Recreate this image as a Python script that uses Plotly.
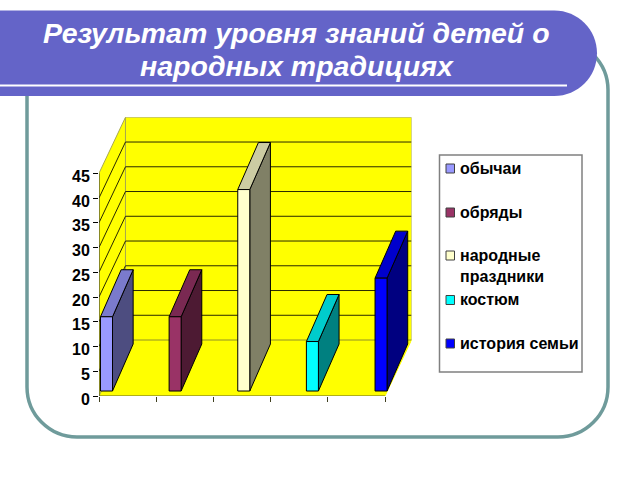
import plotly.graph_objects as go

TITLE_LINES = ["Результат уровня знаний детей о", "народных традициях"]

SERIES = ["обычаи", "обряды", "народные<br>праздники", "костюм", "история семьи"]
VALUES = [15, 15, 40.7, 10, 22.8]
Y_TICKS = [0, 5, 10, 15, 20, 25, 30, 35, 40, 45]
X_TICKS = [0, 1, 2, 3, 4, 5]

FRONT = ["#9999FF", "#993366", "#FFFFCC", "#00FFFF", "#0000FF"]
TOP = ["#7A7ACC", "#7A2952", "#CCCCA3", "#00CCCC", "#0000CC"]
SIDE = ["#4D4D80", "#4D1A33", "#808066", "#008080", "#000080"]

WIDTH, HEIGHT = 640, 480
# plot area in page pixels
LEFT, RIGHT, BOTTOM, TOPY = 99, 411.5, 396, 117.3
X_MAX = (RIGHT - LEFT) / 57.2
Y_MAX = (BOTTOM - TOPY) / 4.95

# oblique depth of the walls and of the bars, in axis units
DEPTH_X, DEPTH_Y = 0.463, 11.31
BAR_START_X, BAR_END_X = 0.11, 0.89
BAR_START_Y, BAR_END_Y = 0.089, 0.929
BAR_STEP, BAR_WIDTH, BAR_OFFSET = 1.2, 0.21, -0.025


def px(x):
    return x / WIDTH


def py(y):
    return 1 - y / HEIGHT


def rounded_path(x0, y0, x1, y1, r_right, r_left=0):
    """Closed path in paper coords, corners drawn as beziers."""
    def p(x, y):
        return f"{px(x):.5f},{py(y):.5f}"

    def corner(c1, c2, end):
        return f"C{p(*c1)} {p(*c2)} {p(*end)} "

    k = 0.5523
    rr, rl = r_right, r_left
    path = f"M{p(x0 + rl, y0)} L{p(x1 - rr, y0)} "
    path += corner((x1 - rr + k * rr, y0), (x1, y0 + rr - k * rr), (x1, y0 + rr))
    path += f"L{p(x1, y1 - rr)} "
    path += corner((x1, y1 - rr + k * rr), (x1 - rr + k * rr, y1), (x1 - rr, y1))
    path += f"L{p(x0 + rl, y1)} "
    if rl:
        path += corner((x0 + rl - k * rl, y1), (x0, y1 - rl + k * rl), (x0, y1 - rl))
        path += f"L{p(x0, y0 + rl)} "
        path += corner((x0, y0 + rl - k * rl), (x0 + rl - k * rl, y0), (x0 + rl, y0))
    return path + "Z"


def polygon(xs, ys, fill, line="#000000", width=1):
    return go.Scatter(
        x=xs + xs[:1], y=ys + ys[:1],
        mode="lines", fill="toself", fillcolor=fill,
        line=dict(color=line, width=width),
        hoverinfo="skip", showlegend=False, cliponaxis=False,
    )


def lines(xs, ys, color, width=1):
    return go.Scatter(
        x=xs, y=ys, mode="lines",
        line=dict(color=color, width=width),
        hoverinfo="skip", showlegend=False, cliponaxis=False,
    )


fig = go.Figure()

# walls and floor
WALL_EDGE = "#A8A850"
fig.add_trace(polygon([0, 5, 5 + DEPTH_X, DEPTH_X], [0, 0, DEPTH_Y, DEPTH_Y], "#FFFF00", "#FFFF00"))
fig.add_trace(polygon([0, DEPTH_X, DEPTH_X, 0], [0, DEPTH_Y, 45 + DEPTH_Y, 45], "#FFFF00", WALL_EDGE))
fig.add_trace(polygon([DEPTH_X, 5 + DEPTH_X, 5 + DEPTH_X, DEPTH_X],
                      [DEPTH_Y, DEPTH_Y, 45 + DEPTH_Y, 45 + DEPTH_Y], "#FFFF00", WALL_EDGE))

# gridlines run along the side wall, then the back wall
grid_x, grid_y = [], []
for v in Y_TICKS[1:-1]:
    grid_x += [0, DEPTH_X, 5 + DEPTH_X, None]
    grid_y += [v, v + DEPTH_Y, v + DEPTH_Y, None]
fig.add_trace(lines(grid_x, grid_y, "#2A2A00"))
fig.add_trace(lines([DEPTH_X, 5 + DEPTH_X], [DEPTH_Y, DEPTH_Y], "#BDBD00"))

# axis lines stop at the last tick, the plot area goes on behind them
fig.add_trace(lines([0, 0], [0, 45], "#404020"))
fig.add_trace(lines([0, 5], [0, 0], "#606030"))

# bars: front, top and side faces
for i, value in enumerate(VALUES):
    x0 = BAR_OFFSET + i * BAR_STEP
    x1 = x0 + BAR_WIDTH
    sx, sy = BAR_START_X * DEPTH_X, BAR_START_Y * DEPTH_Y
    ex, ey = BAR_END_X * DEPTH_X, BAR_END_Y * DEPTH_Y
    fig.add_trace(polygon([x1 + sx, x1 + ex, x1 + ex, x1 + sx],
                          [sy, ey, ey + value, sy + value], SIDE[i]))
    fig.add_trace(polygon([x0 + sx, x1 + sx, x1 + ex, x0 + ex],
                          [sy + value, sy + value, ey + value, ey + value], TOP[i]))
    fig.add_trace(polygon([x0 + sx, x1 + sx, x1 + sx, x0 + sx],
                          [sy, sy, sy + value, sy + value], FRONT[i]))

# slide background: frame under header
shapes = [
    dict(type="path", xref="paper", yref="paper", layer="below",
         path=rounded_path(27, 40, 608, 437, 50, 50),
         fillcolor="#FFFFFF", line=dict(color="#6F9B9B", width=3.5)),
    dict(type="path", xref="paper", yref="paper", layer="below",
         path=rounded_path(-5, 10.5, 597, 96, 42.75),
         fillcolor="#6464C8", line=dict(width=0)),
    dict(type="line", xref="paper", yref="paper", layer="below",
         x0=0, x1=px(567), y0=py(85.5), y1=py(85.5),
         line=dict(color="#FFFFFF", width=2)),
    dict(type="rect", xref="paper", yref="paper", layer="below",
         x0=px(439.5), x1=px(582), y0=py(155), y1=py(372),
         fillcolor="#FFFFFF", line=dict(color="#808080", width=1.5)),
]

annotations = []
# two separate lines, the slide's line spacing is tighter than plotly's
for text, y in zip(TITLE_LINES, [33, 66]):
    annotations.append(dict(
        xref="paper", yref="paper", x=px(296.5), y=py(y),
        xanchor="center", yanchor="middle", showarrow=False,
        text=f"<b><i>{text}</i></b>",
        font=dict(family="Liberation Sans", size=28.5, color="#FFFFFF"),
    ))

# legend, laid out by hand because the native one can't do these small swatches
LEGEND_ROWS = [168.5, 212.5, 255.5, 300, 343.5]
for i, name in enumerate(SERIES):
    y = LEGEND_ROWS[i]
    shapes.append(dict(type="rect", xref="paper", yref="paper", layer="below",
                       x0=px(446), x1=px(454.5), y0=py(y - 4.5), y1=py(y + 4.5),
                       fillcolor=FRONT[i], line=dict(color="#404040", width=1)))
    annotations.append(dict(
        xref="paper", yref="paper", x=px(459), y=py(y - 10),
        xanchor="left", yanchor="top", align="left", showarrow=False,
        text=f"<b>{name}</b>", borderpad=0,
        font=dict(family="Liberation Sans", size=16, color="#000000"),
    ))

fig.update_layout(
    width=WIDTH, height=HEIGHT, autosize=False,
    margin=dict(l=0, r=0, t=0, b=0),
    paper_bgcolor="#FFFFFF", plot_bgcolor="rgba(0,0,0,0)",
    font=dict(family="Liberation Sans", color="#000000"),
    showlegend=False,
    xaxis=dict(domain=[px(LEFT), px(RIGHT)], range=[0, X_MAX], showgrid=False, zeroline=False,
               showline=False, tickmode="array", tickvals=X_TICKS, ticks="outside", automargin=False,
               ticklen=5, tickcolor="#404020", showticklabels=False),
    yaxis=dict(domain=[py(BOTTOM), py(TOPY)], range=[0, Y_MAX], showgrid=False, zeroline=False,
               showline=False, tickmode="array", tickvals=Y_TICKS, ticks="outside", automargin=False,
               ticklen=5, tickcolor="#000000", ticklabelshift=3,
               tickfont=dict(size=16, color="#000000", weight="bold")),
    shapes=shapes,
    annotations=annotations,
)

# the default page has an 8px body margin that shifts everything
fig.write_html("out.html", config={"displayModeBar": False},
               post_script="document.body.style.margin='0';")
